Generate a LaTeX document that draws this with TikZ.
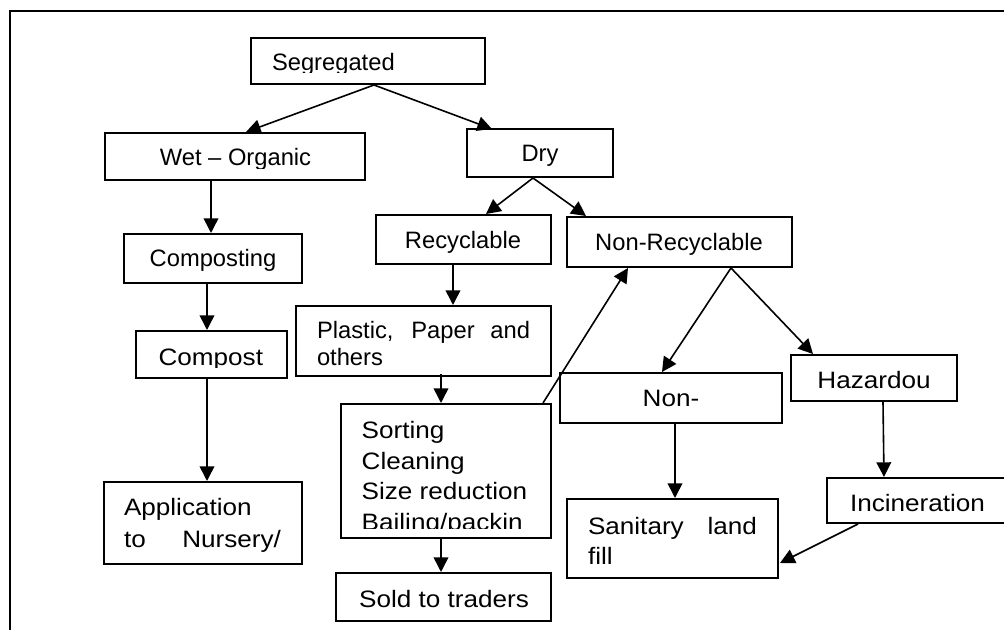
\documentclass[tikz,border=0pt]{standalone}
\usepackage{fontspec}
\setmainfont{Liberation Sans}
\newfontfamily\widefont[FakeStretch=1.1]{Liberation Sans}
\usetikzlibrary{arrows.meta,fit,calc}

\begin{document}
\begin{tikzpicture}[
  x=0.75pt, y=-0.75pt,
  box/.style={draw=black, line width=1.5pt, inner sep=0pt, rectangle},
  arr/.style={draw=black, line width=1.2pt, -{Triangle[length=11pt,width=11pt]}},
  lbl/.style={inner sep=0pt, outer sep=0pt, font=\fontsize{17.8pt}{22pt}\selectfont},
  wlbl/.style={inner sep=0pt, outer sep=0pt, font=\widefont\fontsize{17.8pt}{22pt}\selectfont},
]
\useasboundingbox (0,0) rectangle (1004,630);

% outer frame (runs off the page on the right and at the bottom)
\draw[line width=1.9pt] (10,660) -- (10,11) -- (1030,11);

% boxes
\node[box, fit={(251,38) (485,84)}]   (seg) {};
\node[box, fit={(105,133) (365,180)}] (wet) {};
\node[box, fit={(467,129) (613,177)}] (dry) {};
\node[box, fit={(124,234) (302,283)}] (comping) {};
\node[box, fit={(136,331) (287,378)}] (compost) {};
\node[box, fit={(104,482) (302,564)}] (app) {};
\node[box, fit={(376,215) (551,264)}] (rec) {};
\node[box, fit={(567,217) (792,267)}] (nonrec) {};
\node[box, fit={(296,306) (551,376)}] (plastic) {};
\node[box, fit={(341,404) (551,538)}] (sort) {};
\node[box, fit={(336,573) (551,621)}] (sold) {};
\node[box, fit={(560,373) (782,423)}] (non) {};
\node[box, fit={(791,355) (957,401)}] (haz) {};
\node[box, fit={(567,499) (778,578)}] (san) {};
\node[box, fit={(827,478) (1030,523)}] (inc) {};

% labels (some text areas cut off their last line)
\begin{scope}
  \clip (251,38) rectangle (485,73);
  \node[lbl, anchor=base west] (tseg) at (272,71) {Segregated};
\end{scope}
\begin{scope}
  \clip (105,133) rectangle (365,169);
  \node[lbl, anchor=base] (twet) at (235.5,165.7) {Wet – Organic};
\end{scope}
\node[lbl, anchor=base] (tdry) at (540,161.7) {Dry};
\node[lbl, anchor=base] (tcomping) at (213,266.7) {Composting};
\node[lbl, anchor=base] (trec) at (463,249) {Recyclable};
\node[lbl, anchor=base] (tnonrec) at (679,250.7) {Non-Recyclable};
\begin{scope}
  \clip (296,306) rectangle (551,366.5);
  \node[lbl, anchor=base west] (tplastic1) at (317,339) {\makebox[159.75pt][s]{Plastic, Paper and}};
  \node[lbl, anchor=base west] (tplastic2) at (317,366) {others};
\end{scope}
\begin{scope}
  \clip (136,331) rectangle (287,367.7);
  \node[wlbl, anchor=base] (tcompost) at (210.8,365.7) {Compost};
\end{scope}
\node[wlbl, anchor=base west] (tapp1) at (124,516) {Application};
\node[wlbl, anchor=base west] (tapp2) at (124,548) {\makebox[117.75pt][s]{to Nursery/}};
\begin{scope}
  \clip (341,404) rectangle (551,528.3);
  \node[wlbl, anchor=base west] (tsort1) at (361.7,438.5) {Sorting};
  \node[wlbl, anchor=base west] (tsort2) at (361.7,469.2) {Cleaning};
  \node[wlbl, anchor=base west] (tsort3) at (361.7,500) {Size reduction};
  \node[wlbl, anchor=base west] (tsort4) at (361.7,530.8) {Bailing/packin};
\end{scope}
\node[wlbl, anchor=base] (tsold) at (444,608) {Sold to traders};
\node[wlbl, anchor=base] (tnon) at (671,406.7) {Non-};
\node[wlbl, anchor=base] (thaz) at (874,389) {Hazardou};
\node[wlbl, anchor=base west] (tsan1) at (588,535) {\makebox[126.75pt][s]{Sanitary land}};
\node[wlbl, anchor=base west] (tsan2) at (588,565) {fill};
\begin{scope}
  \clip (827,478) rectangle (1004,513);
  \node[wlbl, anchor=base west] (tinc) at (850,511.5) {Incineration};
\end{scope}

% connectors
\draw[arr] ($(seg.south west)+(124,0)$) -- ($(wet.north west)+(142,0)$);
\draw[arr] ($(seg.south west)+(124,0)$) -- ($(dry.north west)+(26,1)$);
\draw[arr] ($(wet.south west)+(107,0)$) -- ($(comping.north west)+(88,0)$);
\draw[arr] ($(comping.south west)+(84,0)$) -- ($(compost.north west)+(72,0)$);
\draw[arr] ($(compost.south west)+(72,0)$) -- ($(app.north west)+(104,0)$);
\draw[arr] ($(dry.south west)+(67,0)$) -- ($(rec.north west)+(111,0)$);
\draw[arr] ($(dry.south west)+(67,0)$) -- ($(nonrec.north west)+(20,0)$);
\draw[arr] ($(rec.south west)+(78,0)$) -- ($(plastic.north west)+(158,0)$);
\draw[arr] ($(plastic.south west)+(146,-3)$) -- ($(sort.north west)+(101,0)$);
\draw[arr] ($(sort.south west)+(101,0)$) -- ($(sold.north west)+(106,0)$);
\draw[arr] ($(sort.north east)+(-9,0)$) -- ($(nonrec.south west)+(62,0)$);
\draw[arr] ($(nonrec.south west)+(165,0)$) -- ($(non.north west)+(103,0)$);
\draw[arr] ($(nonrec.south west)+(165,0)$) -- ($(haz.north west)+(23,0)$);
\draw[arr] ($(non.south west)+(116,0)$) -- ($(san.north west)+(109,0)$);
\draw[arr] ($(haz.south west)+(93,0)$) -- ($(inc.north west)+(58,0)$);
\draw[arr] ($(inc.south west)+(32,0)$) -- ($(san.south east)+(1,-16)$);
\end{tikzpicture}
\end{document}
